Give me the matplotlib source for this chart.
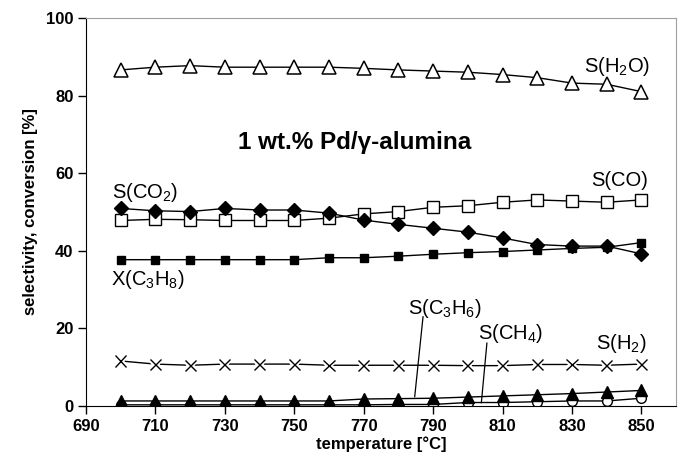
import matplotlib.pyplot as plt
import matplotlib.patheffects as pe

plt.rcParams['font.family'] = ['Liberation Sans', 'DejaVu Sans']
plt.rcParams['mathtext.default'] = 'regular'

temperature = [700, 710, 720, 730, 740, 750, 760, 770, 780, 790, 800, 810, 820, 830, 840, 850]
s_h2o = [86.6, 87.3, 87.7, 87.3, 87.3, 87.3, 87.3, 87.0, 86.6, 86.3, 86.0, 85.4, 84.6, 83.2, 82.9, 81.0]
s_co = [47.8, 48.1, 48.0, 47.8, 47.8, 47.8, 48.4, 49.5, 50.1, 51.2, 51.6, 52.5, 53.1, 52.8, 52.5, 53.1]
s_co2 = [50.9, 50.3, 50.1, 50.9, 50.5, 50.5, 49.7, 47.9, 46.8, 45.8, 44.8, 43.3, 41.6, 41.2, 41.2, 39.2]
x_c3h8 = [37.7, 37.7, 37.7, 37.7, 37.7, 37.7, 38.2, 38.2, 38.6, 39.1, 39.5, 39.8, 40.2, 40.6, 40.9, 42.1]
s_h2 = [11.6, 10.8, 10.5, 10.8, 10.8, 10.8, 10.5, 10.5, 10.5, 10.5, 10.4, 10.4, 10.7, 10.7, 10.5, 10.8]
s_c3h6 = [1.3, 1.3, 1.3, 1.3, 1.3, 1.3, 1.3, 1.8, 1.9, 2.0, 2.3, 2.6, 2.9, 3.2, 3.6, 4.0]
s_ch4 = [0.3, 0.3, 0.3, 0.3, 0.3, 0.3, 0.3, 0.3, 0.4, 0.4, 0.9, 0.9, 1.1, 1.3, 1.3, 2.0]

fig = plt.figure(figsize=(6.85, 4.71), dpi=100)
ax = fig.add_axes([0.1255, 0.138, 0.8615, 0.824])

line_kw = dict(color='black', lw=1.0)
ax.plot(temperature, s_h2o, marker='^', ms=10, mfc='white', mec='black', mew=1.1, **line_kw)
ax.plot(temperature, s_co, marker='s', ms=8, mfc='white', mec='black', mew=1.0, **line_kw)
ax.plot(temperature, s_co2, marker='D', ms=7.5, mfc='black', mec='black', **line_kw)
ax.plot(temperature, x_c3h8, marker='s', ms=5.5, mfc='black', mec='black', **line_kw)
ax.plot(temperature, s_h2, **line_kw)
ax.plot(temperature, s_h2, ls='none', marker='x', ms=8, mec='black', mew=1.0,
        path_effects=[pe.Stroke(linewidth=4, foreground='white'), pe.Normal()])
ax.plot(temperature, s_ch4, marker='o', ms=7, mfc='white', mec='black', mew=1.0, **line_kw)
ax.plot(temperature, s_c3h6, marker='^', ms=8, mfc='black', mec='black', **line_kw)

ax.set_xlim(690, 860)
ax.set_ylim(0, 100)
ax.set_xticks(range(690, 851, 20))
ax.set_yticks(range(0, 101, 20))
ax.tick_params(direction='out', length=6, width=1, labelsize=12, pad=3)
for lab in ax.get_xticklabels() + ax.get_yticklabels():
    lab.set_fontweight('bold')
ax.spines['left'].set_color('black')
ax.spines['bottom'].set_color('black')
ax.spines['top'].set_color('#a0a0a0')
ax.spines['right'].set_color('#a0a0a0')

ax.set_xlabel('temperature [°C]', fontsize=12, fontweight='bold', labelpad=2)
ax.set_ylabel('selectivity, conversion [%]', fontsize=12, fontweight='bold', labelpad=6)

fs = 14.5
ax.text(852.6, 87.6, 'S(H$_2$O)', fontsize=fs, ha='right', va='center')
ax.text(852.0, 58.0, 'S(CO)', fontsize=fs, ha='right', va='center')
ax.text(697.5, 54.9, 'S(CO$_2$)', fontsize=fs, ha='left', va='center')
ax.text(697.2, 32.5, 'X(C$_3$H$_8$)', fontsize=fs, ha='left', va='center')
ax.text(851.4, 16.2, 'S(H$_2$)', fontsize=fs, ha='right', va='center')
ax.text(782.7, 25.0, 'S(C$_3$H$_6$)', fontsize=fs, ha='left', va='center')
ax.text(802.8, 18.6, 'S(CH$_4$)', fontsize=fs, ha='left', va='center')
ax.plot([787.1, 784.7], [23.0, 2.4], color='black', lw=0.9)
ax.plot([805.5, 803.9], [16.2, 0.85], color='black', lw=0.9)

ax.text(767.4, 67.8, '1 wt.% Pd/γ-alumina', fontsize=17.5, fontweight='bold',
        ha='center', va='center')

fig.savefig('out.png', dpi=100)
